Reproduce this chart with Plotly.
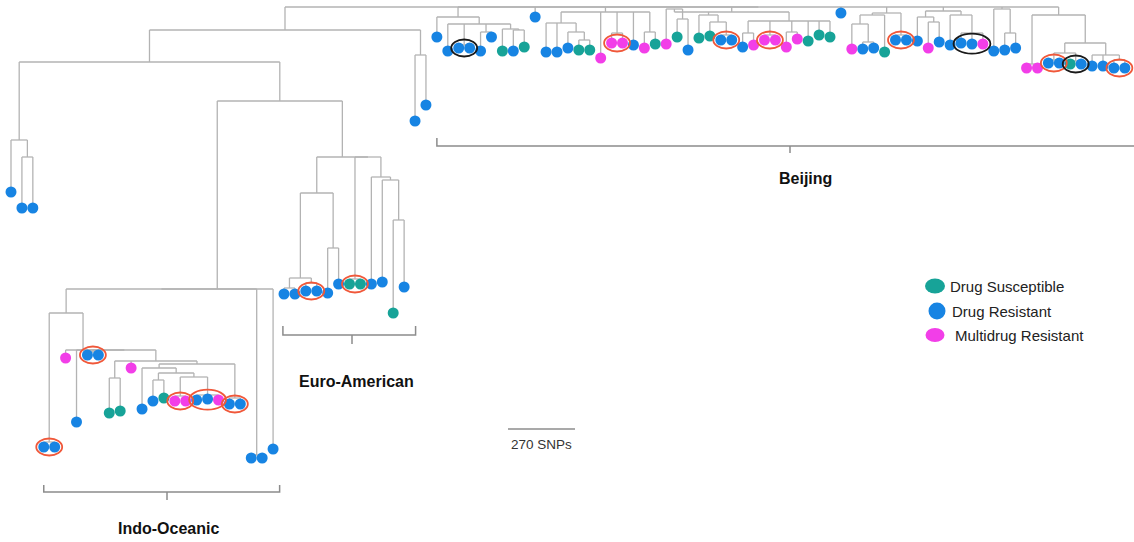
import plotly.graph_objects as go

# ---------------------------------------------------------------------------
# Tree topology, one string per lineage.
#   "(a,b,...)@d"  internal node at depth d (tree units, root at the top)
#   "R@d"          tip at depth d, category S / R / M
# ---------------------------------------------------------------------------
OUTGROUP = "(R@192,(R@208,R@208)@157)@140"
SISTER_PAIR = "(R@121,R@105)@55"

INDO_IQ = "((M@401,M@401)@396,(R@400,R@399,M@400)@395)@377"
INDO_IR = f"((R@401,S@398)@380,{INDO_IQ})@373"
INDO_IU = f"((R@409,{INDO_IR})@368,(R@404,R@404)@398)@364"
INDO_IZ = f"((S@413,S@411)@378,M@368,{INDO_IU})@361"
INDO_IX = f"((R@447,R@447)@442,(M@358,(R@422,((R@355,R@355)@352,{INDO_IZ})@350)@350)@350)@313"
INDO = f"(({INDO_IX},(R@458,R@458)@455)@289,R@449)@289"

EURO = ("((((R@294,R@294)@288,(R@291,R@291)@283)@278,(R@293,R@284)@248)@193,"
        "((S@284,S@284)@279,(R@284,(R@282,(S@313,R@287)@220)@180)@177)@157)@157")

LEFT = f"(({OUTGROUP},({INDO},{EURO})@101)@62,{SISTER_PAIR})@30"

BJ_A = "(R@37,(R@51,(R@48,R@48)@45,(R@51,R@37)@32,(S@51,(R@51,S@47)@30)@29)@24)@17"
BJ_B = "((R@52,R@52,(R@48,(S@50,S@50)@40)@32)@23,M@58,(M@43,M@43)@33,R@45,(M@48,S@44)@32)@12"
BJ_C = ("((M@44,(S@37,R@50)@19)@9,(S@38,(S@36,(R@40,R@40)@35)@22)@15,"
        "((R@47,M@45)@33,(M@40,M@40)@35,(M@47,M@39)@32,S@41,S@35,S@37)@21)@12")
BJ_D = "(((M@49,(R@49,R@48)@42)@24,S@52)@15,(R@40,R@40)@35)@13"
BJ_E = "((R@41,(M@48,R@42)@22)@17,(R@45,(R@43,R@44,M@44)@33)@15)@11"
BJ_F = "(R@51,(R@50,R@48)@33)@9"
BJ_G = ("((M@68,M@68)@64,(((R@63,R@63)@60,(S@64,R@64)@61)@53,"
        "(R@66,R@66,(R@68,R@68)@60)@55)@43)@15")
BEIJING = f"({BJ_A},R@17,{BJ_B},{BJ_C},R@13,{BJ_D},{BJ_E},{BJ_F},{BJ_G})@7"

TREE = f"({LEFT},{BEIJING})@7"

CATEGORY_NAMES = {"S": "Drug Susceptible", "R": "Drug Resistant", "M": "Multidrug Resistant"}
CATEGORY_COLORS = {"S": "#17a398", "R": "#1784e3", "M": "#f23ee8"}

# highlighted tip groups (tip order indices)
RED_GROUPS = [(3, 4), (7, 8), (15, 16), (17, 18, 19), (20, 21), (27, 28), (31, 32),
              (55, 56), (65, 66), (69, 70), (81, 82), (95, 96), (101, 102)]
BLACK_GROUPS = [(41, 42), (87, 88, 89), (97, 98)]

CLADE_LABELS = ["Beijing", "Euro-American", "Indo-Oceanic"]
CLADE_TIP_SPANS = [(39, 102), (25, 37), (3, 24)]

SCALE_SNPS = 270
SNPS_PER_UNIT = 270 / 67

# ---------------------------------------------------------------------------
W, H = 1134, 542
TIP_PX = 10.92          # horizontal spacing between neighbouring tips
LEFT_PX = 11            # position of the first tip
FONT = "Liberation Sans, Arial, sans-serif"


def px_to_x(px):
    return (px - LEFT_PX) / TIP_PX


def parse_tree(text):
    s = text.replace(" ", "")
    pos = 0

    def depth():
        nonlocal pos
        pos += 1  # '@'
        start = pos
        while pos < len(s) and (s[pos].isdigit() or s[pos] == "."):
            pos += 1
        return float(s[start:pos])

    def node():
        nonlocal pos
        if s[pos] == "(":
            pos += 1
            kids = [node()]
            while s[pos] == ",":
                pos += 1
                kids.append(node())
            pos += 1  # ')'
            return {"kids": kids, "depth": depth()}
        cat = s[pos]
        pos += 1
        return {"cat": cat, "depth": depth()}

    return node()


root = parse_tree(TREE)
tips = []


def place(n):
    if "cat" in n:
        n["x"] = len(tips)
        tips.append(n)
    else:
        for k in n["kids"]:
            place(k)
        n["x"] = (n["kids"][0]["x"] + n["kids"][-1]["x"]) / 2


place(root)

line_x, line_y = [], []


def collect(n):
    if "kids" not in n:
        return
    d = n["depth"]
    line_x.extend([n["kids"][0]["x"], n["kids"][-1]["x"], None])
    line_y.extend([d, d, None])
    for k in n["kids"]:
        line_x.extend([k["x"], k["x"], None])
        line_y.extend([d, k["depth"], None])
        collect(k)


collect(root)

fig = go.Figure()
fig.add_trace(go.Scatter(x=line_x, y=line_y, mode="lines", hoverinfo="skip",
                         line=dict(color="#b3b3b3", width=1.3), showlegend=False))

for cat in ["S", "R", "M"]:
    pts = [t for t in tips if t["cat"] == cat]
    fig.add_trace(go.Scatter(
        x=[t["x"] for t in pts], y=[t["depth"] for t in pts], mode="markers",
        name=CATEGORY_NAMES[cat], showlegend=False,
        marker=dict(size=11, color=CATEGORY_COLORS[cat], line=dict(width=0))))

shapes = []
annotations = []

# ovals around highlighted groups
pad_x = 7.5 / TIP_PX
for groups, color in [(RED_GROUPS, "#f0583a"), (BLACK_GROUPS, "#1a1a1a")]:
    for g in groups:
        ys = [tips[i]["depth"] for i in g]
        cy = sum(ys) / len(ys)
        half_h = 8.5 if len(g) == 2 else 10
        shapes.append(dict(type="circle", xref="x", yref="y",
                           x0=tips[g[0]]["x"] - pad_x, x1=tips[g[-1]]["x"] + pad_x,
                           y0=cy - half_h, y1=cy + half_h,
                           line=dict(color=color, width=1.8)))

# clade brackets and labels
bracket_geom = {
    "Beijing": dict(pad_l=0.0, pad_r=1.0, top=138, base=146, tick=153,
                    tick_px=790, label_px=805, label_y=178),
    "Euro-American": dict(pad_l=0.1, pad_r=0.05, top=326, base=335, tick=344,
                          tick_px=352, label_px=356, label_y=381),
    "Indo-Oceanic": dict(pad_l=0.0, pad_r=0.6, top=485, base=492, tick=500,
                         tick_px=167, label_px=168, label_y=528),
}
bracket_line = dict(color="#8c8c8c", width=1.5)
for label, (a, b) in zip(CLADE_LABELS, CLADE_TIP_SPANS):
    gm = bracket_geom[label]
    x0 = tips[a]["x"] - gm["pad_l"]
    x1 = tips[b]["x"] + gm["pad_r"]
    xm = px_to_x(gm["tick_px"])
    shapes.append(dict(type="path", xref="x", yref="y",
                       path=f"M {x0},{gm['top']} L {x0},{gm['base']} L {x1},{gm['base']} L {x1},{gm['top']}",
                       line=bracket_line))
    shapes.append(dict(type="line", xref="x", yref="y", x0=xm, x1=xm,
                       y0=gm["base"], y1=gm["tick"], line=bracket_line))
    annotations.append(dict(x=px_to_x(gm["label_px"]), y=gm["label_y"], xref="x", yref="y",
                            text=f"<b>{label}</b>", showarrow=False,
                            font=dict(size=16, color="#111111", family=FONT)))

# scale bar
bar_len_x = (SCALE_SNPS / SNPS_PER_UNIT) / TIP_PX
bar_x0 = px_to_x(508)
shapes.append(dict(type="line", xref="x", yref="y", x0=bar_x0, x1=bar_x0 + bar_len_x,
                   y0=429, y1=429, line=dict(color="#8c8c8c", width=1.5)))
annotations.append(dict(x=bar_x0 + bar_len_x / 2, y=444, xref="x", yref="y",
                        text=f"{SCALE_SNPS} SNPs", showarrow=False,
                        font=dict(size=13.5, color="#333333", family=FONT)))

# legend
legend_rows = [("S", 935, 286, 20, 15, 948),
               ("R", 937, 311, 17, 17, 950),
               ("M", 935, 335, 19, 14, 953)]
for cat, cx, cy, w, h, tx in legend_rows:
    shapes.append(dict(type="circle", xref="x", yref="y",
                       x0=px_to_x(cx - w / 2), x1=px_to_x(cx + w / 2),
                       y0=cy - h / 2, y1=cy + h / 2,
                       fillcolor=CATEGORY_COLORS[cat], line=dict(width=0)))
    annotations.append(dict(x=px_to_x(tx), y=cy, xref="x", yref="y", xanchor="left",
                            text=CATEGORY_NAMES[cat], showarrow=False,
                            font=dict(size=15, color="#222222", family=FONT)))

fig.update_layout(
    width=W, height=H,
    margin=dict(l=0, r=0, t=0, b=0),
    paper_bgcolor="white", plot_bgcolor="white",
    xaxis=dict(range=[px_to_x(0), px_to_x(W)], visible=False, fixedrange=True),
    yaxis=dict(range=[H, 0], visible=False, fixedrange=True),
    shapes=shapes, annotations=annotations,
    showlegend=False,
)

fig.write_html("out.html")
